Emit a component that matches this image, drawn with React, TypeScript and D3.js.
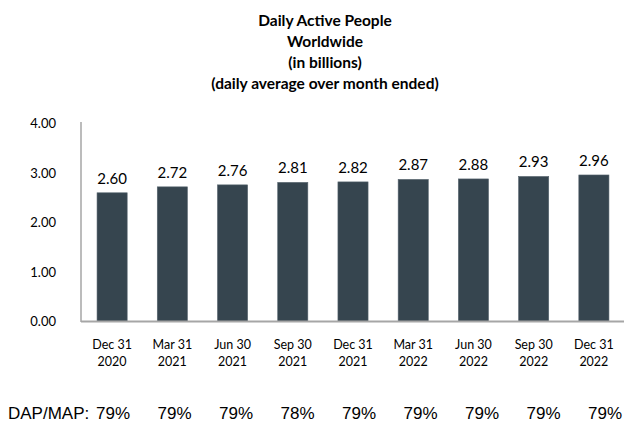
import React from "react";
import * as d3 from "d3";

const categories = ["Dec 31\n2020", "Mar 31\n2021", "Jun 30\n2021", "Sep 30\n2021", "Dec 31\n2021", "Mar 31\n2022", "Jun 30\n2022", "Sep 30\n2022", "Dec 31\n2022"];
const values = [2.60, 2.72, 2.76, 2.81, 2.82, 2.87, 2.88, 2.93, 2.96];
const ratios = ["79%", "79%", "79%", "78%", "79%", "79%", "79%", "79%", "79%"];
const yTicks = [0, 1, 2, 3, 4];
const titleLines = ["Daily Active People", "Worldwide", "(in billions)", "(daily average over month ended)"];

const W = 624, H = 422;
const font = "Lato, 'Open Sans', sans-serif";
const arial = "'Liberation Sans', Arial, sans-serif";

export default function App() {
  const x = d3.scaleBand<string>().domain(categories).range([82, 624]).paddingInner(0.5).paddingOuter(0.25);
  const y = d3.scaleLinear().domain([0, 4]).range([321.5, 123.5]);
  const px = d3.scalePoint<string>().domain(ratios.map((_, i) => String(i))).range([113, 605]);
  return (
    <svg width={W} height={H} style={{ position: "absolute", left: 0, top: 0, background: "#fff" }}>
      {titleLines.map((t, i) => (
        <text key={i} x={325} y={26 + i * 21} textAnchor="middle" fontFamily={font} fontWeight="bold" fontSize={15.5} fill="#000">{t}</text>
      ))}
      {yTicks.map(t => (
        <text key={t} x={56} y={y(t)} dy="0.35em" textAnchor="end" fontFamily={font} fontSize={13} fill="#000">{t.toFixed(2)}</text>
      ))}
      <line x1={81} x2={81} y1={122} y2={322} stroke="#a6a6a6" strokeWidth={1.5} />
      {categories.map((c, i) => (
        <g key={c}>
          <rect x={x(c)} y={y(values[i])} width={x.bandwidth()} height={y(0) - y(values[i])} fill="#36454f" stroke="#55636d" strokeWidth={0.6} />
          <text x={(x(c) as number) + x.bandwidth() / 2} y={y(values[i]) - 9} textAnchor="middle" fontFamily={font} fontSize={15} fill="#000">{values[i].toFixed(2)}</text>
          {c.split("\n").map((l, j) => (
            <text key={j} x={(x(c) as number) + x.bandwidth() / 2} y={349 + j * 17} textAnchor="middle" fontFamily={font} fontSize={12.5} fill="#000">{l}</text>
          ))}
        </g>
      ))}
      <line x1={81} x2={624} y1={321.5} y2={321.5} stroke="#a6a6a6" strokeWidth={2} />
      <text x={8} y={419} fontFamily={arial} fontSize={17} fill="#000">DAP/MAP:</text>
      {ratios.map((r, i) => (
        <text key={i} x={px(String(i))} y={419} textAnchor="middle" fontFamily={arial} fontSize={17} fill="#000">{r}</text>
      ))}
    </svg>
  );
}
